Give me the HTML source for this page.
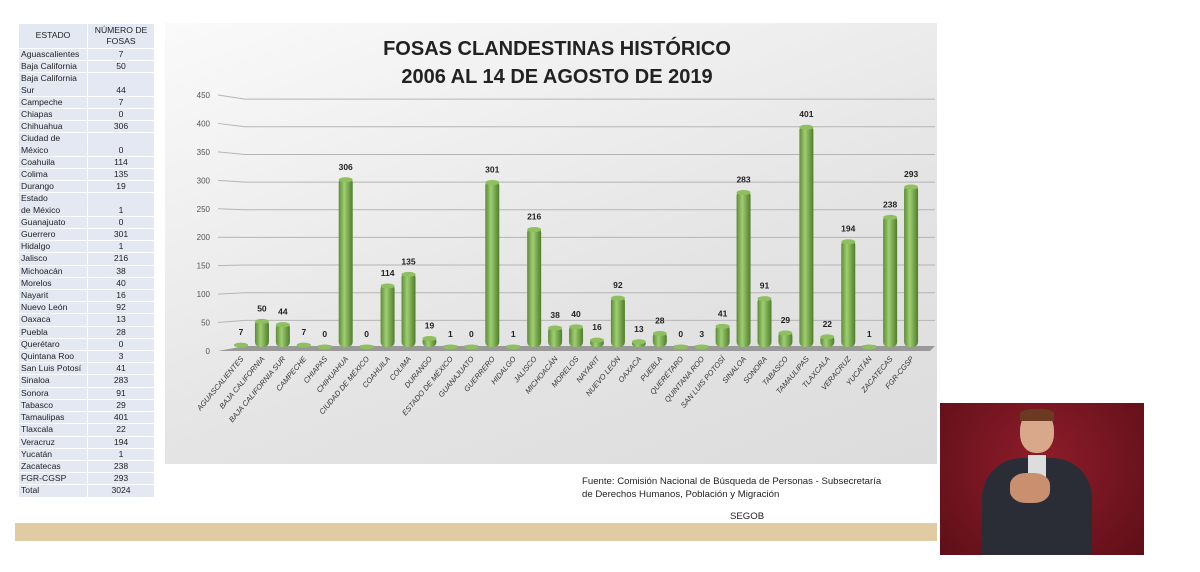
<!DOCTYPE html>
<html><head><meta charset="utf-8"><style>
body{margin:0;width:1200px;height:572px;background:#fff;position:relative;overflow:hidden;font-family:"Liberation Sans",sans-serif}
table{position:absolute;left:18px;top:23px;width:137px;border-collapse:collapse;font-size:8.6px;color:#222}
td{background:#e3e8f3;border:1px solid #fff;padding:0 2px;line-height:11.2px;height:11.2px}
td+td{text-align:center;width:62px}
.panel{position:absolute;left:165px;top:23px;width:772px;height:441px;background:linear-gradient(160deg,#fafafa,#e4e4e4 60%,#dcdcdc)}
.band{position:absolute;left:15px;top:523px;width:922px;height:18px;background:#e1cba3}
.src{position:absolute;left:582px;top:476px;font-size:9.6px;line-height:12.5px;color:#222}
.video{position:absolute;left:940px;top:403px;width:204px;height:152px;background:radial-gradient(circle at 50% 40%,#8e1d2a,#5e0f18)}
</style></head><body>
<table>
<tr><td style="text-align:center;height:24px">ESTADO</td><td>NÚMERO DE FOSAS</td></tr>
<tr><td>Aguascalientes</td><td>7</td></tr>
<tr><td>Baja California</td><td>50</td></tr>
<tr><td>Baja California<br>Sur</td><td style="vertical-align:bottom">44</td></tr>
<tr><td>Campeche</td><td>7</td></tr>
<tr><td>Chiapas</td><td>0</td></tr>
<tr><td>Chihuahua</td><td>306</td></tr>
<tr><td>Ciudad de<br>México</td><td style="vertical-align:bottom">0</td></tr>
<tr><td>Coahuila</td><td>114</td></tr>
<tr><td>Colima</td><td>135</td></tr>
<tr><td>Durango</td><td>19</td></tr>
<tr><td>Estado<br>de México</td><td style="vertical-align:bottom">1</td></tr>
<tr><td>Guanajuato</td><td>0</td></tr>
<tr><td>Guerrero</td><td>301</td></tr>
<tr><td>Hidalgo</td><td>1</td></tr>
<tr><td>Jalisco</td><td>216</td></tr>
<tr><td>Michoacán</td><td>38</td></tr>
<tr><td>Morelos</td><td>40</td></tr>
<tr><td>Nayarit</td><td>16</td></tr>
<tr><td>Nuevo León</td><td>92</td></tr>
<tr><td>Oaxaca</td><td>13</td></tr>
<tr><td>Puebla</td><td>28</td></tr>
<tr><td>Querétaro</td><td>0</td></tr>
<tr><td>Quintana Roo</td><td>3</td></tr>
<tr><td>San Luis Potosí</td><td>41</td></tr>
<tr><td>Sinaloa</td><td>283</td></tr>
<tr><td>Sonora</td><td>91</td></tr>
<tr><td>Tabasco</td><td>29</td></tr>
<tr><td>Tamaulipas</td><td>401</td></tr>
<tr><td>Tlaxcala</td><td>22</td></tr>
<tr><td>Veracruz</td><td>194</td></tr>
<tr><td>Yucatán</td><td>1</td></tr>
<tr><td>Zacatecas</td><td>238</td></tr>
<tr><td>FGR-CGSP</td><td>293</td></tr>
<tr><td>Total</td><td>3024</td></tr>
</table>
<div class="panel"></div>
<svg id="c" width="1200" height="572" style="position:absolute;left:0;top:0">
<defs><linearGradient id="g" x1="0" x2="1"><stop offset="0" stop-color="#5c8c34"/><stop offset="0.4" stop-color="#9fce72"/><stop offset="1" stop-color="#4f7d2b"/></linearGradient></defs>
<text x="557" y="55" text-anchor="middle" font-size="20" font-weight="bold" fill="#222">FOSAS CLANDESTINAS HISTÓRICO</text>
<text x="557" y="83" text-anchor="middle" font-size="20" font-weight="bold" fill="#222">2006 AL 14 DE AGOSTO DE 2019</text>
<g id="grid"></g><g id="bars"></g>
</svg>
<div class="src">Fuente: Comisión Nacional de Búsqueda de Personas - Subsecretaría<br>de Derechos Humanos, Población y Migración</div>
<div style="position:absolute;left:730px;top:511px;font-size:9.6px;color:#222">SEGOB</div>
<div class="band"></div>
<div class="video">
<div style="position:absolute;left:80px;top:8px;width:34px;height:42px;border-radius:45%;background:#d9a88a"></div>
<div style="position:absolute;left:80px;top:6px;width:34px;height:12px;border-radius:40% 40% 0 0;background:#6b3a22"></div>
<div style="position:absolute;left:42px;top:55px;width:110px;height:97px;border-radius:40px 40px 0 0;background:#2b2d36"></div>
<div style="position:absolute;left:88px;top:52px;width:18px;height:40px;background:#ddd"></div>
<div style="position:absolute;left:70px;top:70px;width:40px;height:30px;border-radius:40%;background:#c99070"></div>
</div>
<script>
var d=[["AGUASCALIENTES",7],["BAJA CALIFORNIA",50],["BAJA CALIFORNIA SUR",44],["CAMPECHE",7],["CHIAPAS",0],["CHIHUAHUA",306],["CIUDAD DE MÉXICO",0],["COAHUILA",114],["COLIMA",135],["DURANGO",19],["ESTADO DE MÉXICO",1],["GUANAJUATO",0],["GUERRERO",301],["HIDALGO",1],["JALISCO",216],["MICHOACÁN",38],["MORELOS",40],["NAYARIT",16],["NUEVO LEÓN",92],["OAXACA",13],["PUEBLA",28],["QUERÉTARO",0],["QUINTANA ROO",3],["SAN LUIS POTOSÍ",41],["SINALOA",283],["SONORA",91],["TABASCO",29],["TAMAULIPAS",401],["TLAXCALA",22],["VERACRUZ",194],["YUCATÁN",1],["ZACATECAS",238],["FGR-CGSP",293]];
var s="",b="";
for(var v=0;v<=450;v+=50){var yl=351-v*0.5689,yr=348-v*0.553;
s+='<text x="210" y="'+(yl+3)+'" text-anchor="end" font-size="8" fill="#555">'+v+'</text>';
if(v>0)s+='<polyline points="218,'+yl+' 245,'+yr+' 935,'+yr+'" fill="none" stroke="#b5b5b5" stroke-width="1"/>';}
s+='<polygon points="218,351 245,346 935,346 930,351" fill="#999"/>';
for(var i=0;i<d.length;i++){var x=241+i*20.94,h=Math.max(d[i][1]*0.553,2),t=347-h;
b+='<rect x="'+(x-7)+'" y="'+t+'" width="14" height="'+h+'" rx="5" fill="url(#g)"/>';
b+='<ellipse cx="'+x+'" cy="'+(t+2)+'" rx="7" ry="2.5" fill="#8fc05f"/>';
b+='<text x="'+x+'" y="'+(t-8)+'" text-anchor="middle" font-size="8.5" font-weight="bold" fill="#222">'+d[i][1]+'</text>';
b+='<text transform="translate('+(x+3)+',359) rotate(-50)" text-anchor="end" font-size="7.5" font-style="italic" fill="#333">'+d[i][0]+'</text>';}
document.getElementById('grid').innerHTML=s;document.getElementById('bars').innerHTML=b;
</script>
</body></html>
